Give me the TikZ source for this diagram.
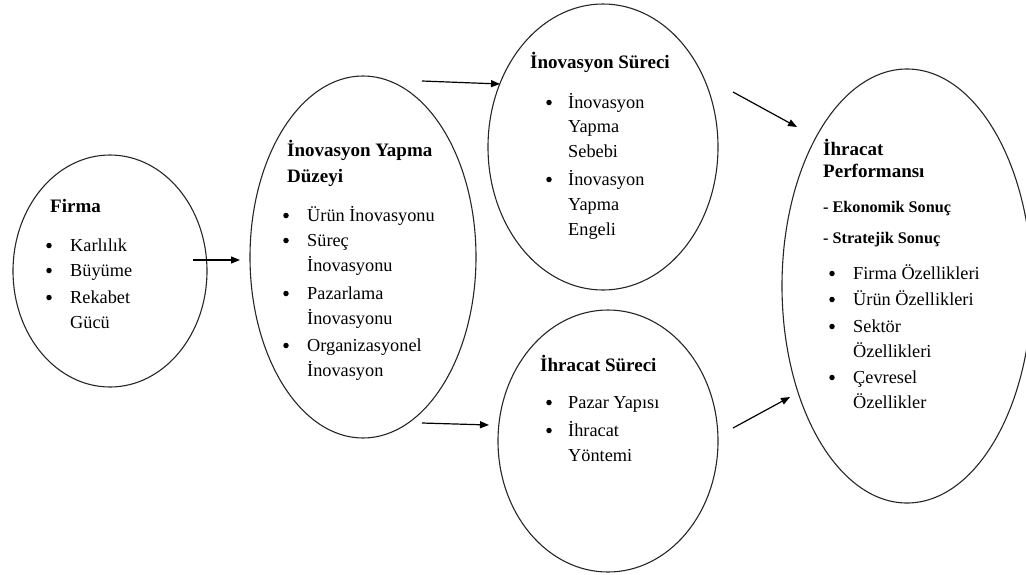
\documentclass[tikz,border=0pt]{standalone}
\usepackage{fontspec}
\setmainfont{Liberation Serif}
\usetikzlibrary{shapes.geometric,arrows.meta}
\tikzset{
  oval/.style={draw=black!85, line width=1.1pt, ellipse, inner sep=0pt},
  ttl/.style={anchor=base west, inner sep=0pt, font=\bfseries\fontsize{19}{22}\selectfont},
  txt/.style={anchor=base west, inner sep=0pt, font=\fontsize{18.3}{22}\selectfont},
  sub/.style={anchor=base west, inner sep=0pt, font=\bfseries\fontsize{16.2}{18}\selectfont},
  dot/.style={fill=black, circle, inner sep=0pt, minimum size=5.5pt},
  arr/.style={-{Triangle[length=9pt,width=7pt]}, line width=1.2pt},
}
\begin{document}
\begin{tikzpicture}[x=1pt,y=-1pt]
\useasboundingbox (0,0) rectangle (1026,574);
% ellipses
\node[oval, minimum width=194pt, minimum height=232pt] (firma) at (110,271) {};
\node[oval, minimum width=226pt, minimum height=362pt] (yapma) at (363,257) {};
\node[oval, minimum width=230pt, minimum height=286pt] (isurec) at (603,147) {};
\node[oval, minimum width=220pt, minimum height=262pt] (hsurec) at (608,441) {};
\node[oval, minimum width=250pt, minimum height=434pt] (perf) at (907,286) {};

% Firma
\node[ttl] (f0) at (50,212) {Firma};
\node[dot] (f1d) at (49,245.5) {};
\node[txt] (f1) at (70,251) {Karlılık};
\node[dot] (f2d) at (49,270.5) {};
\node[txt] (f2) at (70,276) {Büyüme};
\node[dot] (f3d) at (49,297.5) {};
\node[txt] (f3) at (70,303) {Rekabet};
\node[txt] (f4) at (70,328) {Gücü};

% Inovasyon Yapma Duzeyi
\node[ttl] (y0) at (287,156) {İnovasyon Yapma};
\node[ttl] (y0b) at (287,182) {Düzeyi};
\node[dot] (y1d) at (286,215.5) {};
\node[txt] (y1) at (307,221) {Ürün İnovasyonu};
\node[dot] (y2d) at (286,240.5) {};
\node[txt] (y2) at (307,246) {Süreç};
\node[txt] (y2b) at (307,271) {İnovasyonu};
\node[dot] (y3d) at (286,293.5) {};
\node[txt] (y3) at (307,299) {Pazarlama};
\node[txt] (y3b) at (307,324) {İnovasyonu};
\node[dot] (y4d) at (286,345.5) {};
\node[txt] (y4) at (307,351) {Organizasyonel};
\node[txt] (y4b) at (307,376) {İnovasyon};

% Inovasyon Sureci
\node[ttl] (i0) at (530,68) {İnovasyon Süreci};
\node[dot] (i1d) at (549,102.5) {};
\node[txt] (i1) at (568,108) {İnovasyon};
\node[txt] (i1b) at (568,132) {Yapma};
\node[txt] (i1c) at (568,157) {Sebebi};
\node[dot] (i2d) at (549,179.5) {};
\node[txt] (i2) at (568,185) {İnovasyon};
\node[txt] (i2b) at (568,210) {Yapma};
\node[txt] (i2c) at (568,235) {Engeli};

% Ihracat Sureci
\node[ttl] (h0) at (540,371) {İhracat Süreci};
\node[dot] (h1d) at (549,402.5) {};
\node[txt] (h1) at (568,408) {Pazar Yapısı};
\node[dot] (h2d) at (549,430.5) {};
\node[txt] (h2) at (568,436) {İhracat};
\node[txt] (h2b) at (568,461) {Yöntemi};

% Ihracat Performansi
\node[ttl] (p0) at (823,155) {İhracat};
\node[ttl] (p0b) at (823,177) {Performansı};
\node[sub] (p1) at (823,212) {- Ekonomik Sonuç};
\node[sub] (p2) at (823,243) {- Stratejik Sonuç};
\node[dot] (p3d) at (832,273.5) {};
\node[txt] (p3) at (853,279) {Firma Özellikleri};
\node[dot] (p4d) at (832,299.5) {};
\node[txt] (p4) at (853,305) {Ürün Özellikleri};
\node[dot] (p5d) at (832,326.5) {};
\node[txt] (p5) at (853,332) {Sektör};
\node[txt] (p5b) at (853,357) {Özellikleri};
\node[dot] (p6d) at (832,377.5) {};
\node[txt] (p6) at (853,383) {Çevresel};
\node[txt] (p6b) at (853,408) {Özellikler};

% arrows
\coordinate (a1s) at (193,260);
\coordinate (a1e) at (240,260);
\coordinate (a2s) at (422,81);
\coordinate (a2e) at (500,84);
\coordinate (a3s) at (422,423);
\coordinate (a3e) at (489,425);
\coordinate (a4s) at (733,92);
\coordinate (a4e) at (797,127);
\coordinate (a5s) at (733,428);
\coordinate (a5e) at (790,397);
\draw[arr] (a1s) -- (a1e);
\draw[arr] (a2s) -- (a2e);
\draw[arr] (a3s) -- (a3e);
\draw[arr] (a4s) -- (a4e);
\draw[arr] (a5s) -- (a5e);
\end{tikzpicture}
\end{document}
